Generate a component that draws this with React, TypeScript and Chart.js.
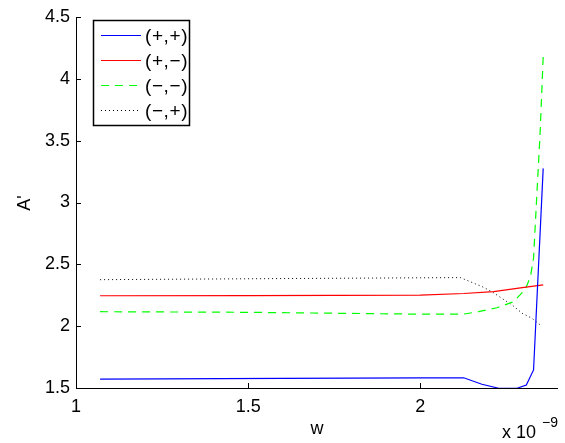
import React, { useEffect, useRef } from 'react';
import { Chart, registerables } from 'chart.js';

Chart.register(...registerables);

// w values are given in units of 1e-9 (the axis shows "x 10^-9")
const seriesLabels = ['(+,+)', '(+,\u2212)', '(\u2212,\u2212)', '(\u2212,+)'];

const wPP = [1.07, 1.6, 2.0, 2.126, 2.179, 2.228, 2.281, 2.308, 2.329, 2.357];
const aPP = [1.572, 1.578, 1.582, 1.583, 1.53, 1.498, 1.498, 1.524, 1.646, 3.276];

const wPM = [1.07, 1.5, 2.0, 2.126, 2.213, 2.291, 2.357];
const aPM = [2.246, 2.247, 2.251, 2.264, 2.279, 2.309, 2.334];

const wMM = [1.07, 1.5, 2.0, 2.126, 2.169, 2.223, 2.271, 2.305, 2.32, 2.329, 2.337, 2.348, 2.357];
const aMM = [2.117, 2.112, 2.097, 2.098, 2.117, 2.149, 2.198, 2.298, 2.4, 2.55, 2.98, 3.56, 4.18];

const wMP = [1.07, 1.6, 2.0, 2.116, 2.145, 2.18, 2.208, 2.237, 2.267, 2.296, 2.325, 2.349];
const aMP = [2.376, 2.385, 2.391, 2.393, 2.36, 2.319, 2.279, 2.225, 2.171, 2.104, 2.063, 2.009];

const xTicks = [1, 1.5, 2];
const yTicks = [1.5, 2, 2.5, 3, 3.5, 4, 4.5];

const FONT = '"Liberation Sans", Arial, Helvetica, sans-serif';

const pts = (xs: number[], ys: number[]) => xs.map((x, i) => ({ x, y: ys[i] }));

const decorPlugin = {
  id: 'decor',
  afterDraw(chart: any) {
    const ctx = chart.ctx as CanvasRenderingContext2D;
    const { left, right, top, bottom } = chart.chartArea;
    const xs = chart.scales.x;
    const ys = chart.scales.y;
    ctx.save();
    // axes lines
    ctx.strokeStyle = '#000';
    ctx.lineWidth = 1;
    ctx.beginPath();
    ctx.moveTo(Math.round(left) + 0.5, top);
    ctx.lineTo(Math.round(left) + 0.5, Math.round(bottom) + 0.5);
    ctx.lineTo(right, Math.round(bottom) + 0.5);
    ctx.stroke();
    // inward ticks
    xTicks.forEach((v) => {
      const px = Math.round(xs.getPixelForValue(v)) + 0.5;
      ctx.beginPath();
      ctx.moveTo(px, bottom);
      ctx.lineTo(px, bottom - 5);
      ctx.stroke();
    });
    yTicks.forEach((v) => {
      const py = Math.round(ys.getPixelForValue(v)) + 0.5;
      ctx.beginPath();
      ctx.moveTo(left, py);
      ctx.lineTo(left + 5, py);
      ctx.stroke();
    });

    // axis titles
    ctx.fillStyle = '#000';
    ctx.font = `18px ${FONT}`;
    ctx.textAlign = 'center';
    ctx.textBaseline = 'middle';
    ctx.fillText('w', (left + right) / 2, 429);
    ctx.save();
    ctx.translate(25, 203);
    ctx.rotate(-Math.PI / 2);
    ctx.fillText("A'", 0, 0);
    ctx.restore();
    // exponent
    ctx.textAlign = 'left';
    ctx.textBaseline = 'alphabetic';
    ctx.font = `18px ${FONT}`;
    ctx.fillText('x 10', 502, 438);
    ctx.font = `14px ${FONT}`;
    ctx.fillText('\u22129', 542, 427);

    // legend
    const bx = 93.5, by = 20.5, bw = 96, bh = 105;
    ctx.fillStyle = '#fff';
    ctx.fillRect(bx, by, bw, bh);
    ctx.strokeStyle = '#000';
    ctx.lineWidth = 1.5;
    ctx.setLineDash([]);
    ctx.strokeRect(bx, by, bw, bh);
    chart.data.datasets.forEach((ds: any, i: number) => {
      const y = 35.5 + i * 25;
      ctx.strokeStyle = ds.borderColor;
      ctx.lineWidth = ds.borderWidth || 1;
      ctx.setLineDash(ds.borderDash || []);
      ctx.beginPath();
      ctx.moveTo(101, y);
      ctx.lineTo(141, y);
      ctx.stroke();
      ctx.setLineDash([]);
      ctx.fillStyle = '#000';
      ctx.font = `19px ${FONT}`;
      (ctx as any).letterSpacing = '0.6px';
      ctx.textAlign = 'left';
      ctx.textBaseline = 'middle';
      ctx.fillText(ds.label, 145, y + 1);
      (ctx as any).letterSpacing = '0px';
    });
    ctx.restore();
  },
};

export default function App() {
  const ref = useRef<HTMLCanvasElement | null>(null);
  useEffect(() => {
    if (!ref.current) return;
    const chart = new Chart(ref.current, {
      type: 'line',
      data: {
        datasets: [
          { label: seriesLabels[0], data: pts(wPP, aPP), borderColor: '#0000ff', borderWidth: 1.2 },
          { label: seriesLabels[1], data: pts(wPM, aPM), borderColor: '#ff0000', borderWidth: 1.2 },
          { label: seriesLabels[2], data: pts(wMM, aMM), borderColor: '#00ff00', borderWidth: 1.2, borderDash: [8, 6] },
          { label: seriesLabels[3], data: pts(wMP, aMP), borderColor: '#000000', borderWidth: 1, borderDash: [1, 3] },
        ],
      },
      options: {
        animation: false,
        responsive: false,
        devicePixelRatio: 1,
        elements: { point: { radius: 0 }, line: { tension: 0 } },
        layout: { padding: { left: 0, top: 17, right: 7, bottom: 0 }, autoPadding: false } as any,
        plugins: { legend: { display: false }, tooltip: { enabled: false } },
        scales: {
          x: {
            type: 'linear',
            min: 1,
            max: 2.4,
            grid: { display: false, drawTicks: false },
            border: { display: false },
            afterBuildTicks: (s: any) => {
              s.ticks = xTicks.map((v) => ({ value: v }));
            },
            afterFit: (s: any) => {
              s.height = 55;
            },
            ticks: {
              padding: 8,
              color: '#000',
              font: { family: FONT, size: 18 },
              maxRotation: 0,
              callback: (v: any) => String(v),
            },
          },
          y: {
            type: 'linear',
            min: 1.5,
            max: 4.5,
            grid: { display: false, drawTicks: false },
            border: { display: false },
            afterBuildTicks: (s: any) => {
              s.ticks = yTicks.map((v) => ({ value: v }));
            },
            afterFit: (s: any) => {
              s.width = 76;
            },
            ticks: {
              padding: 6,
              color: '#000',
              font: { family: FONT, size: 18 },
              callback: (v: any) => String(v),
            },
          },
        },
      },
      plugins: [decorPlugin],
    });
    return () => chart.destroy();
  }, []);
  return (
    <div style={{ position: 'fixed', left: 0, top: 0, width: 565, height: 443, background: '#fff' }}>
      <canvas ref={ref} width={565} height={443} style={{ display: 'block' }} />
    </div>
  );
}
